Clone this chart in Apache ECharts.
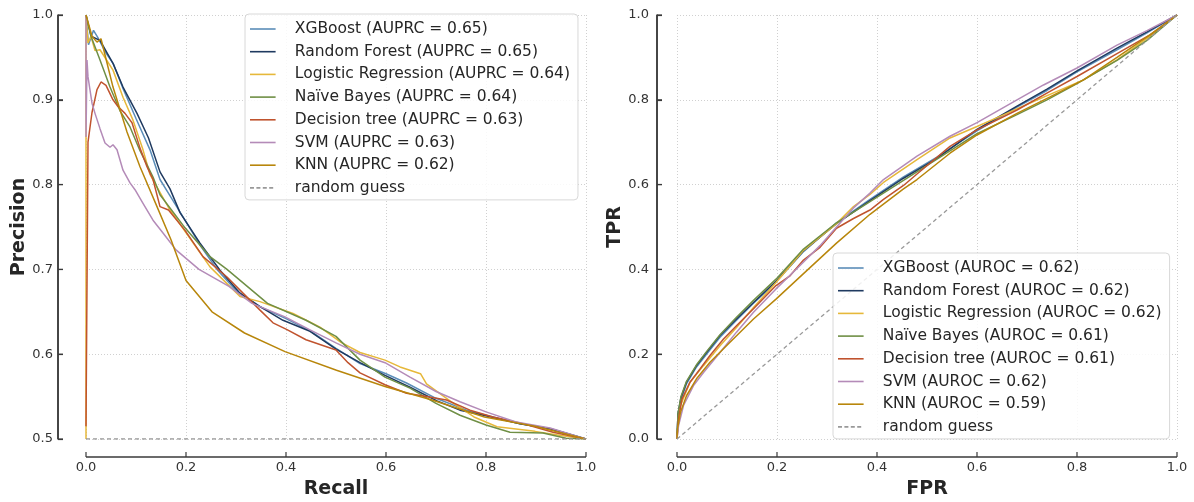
<!DOCTYPE html>
<html><head><meta charset="utf-8">
<script src="https://cdn.jsdelivr.net/npm/echarts@6/dist/echarts.min.js"></script>
<style>html,body{margin:0;padding:0;background:#fff}#c{width:1194px;height:502px}</style>
</head><body><div id="c"></div>
<script>
// ---------- Data ----------
const modelNames = ["XGBoost","Random Forest","Logistic Regression","Naïve Bayes","Decision tree","SVM","KNN"];
const auprc = ["0.65","0.65","0.64","0.64","0.63","0.63","0.62"];
const auroc = ["0.62","0.62","0.62","0.61","0.61","0.62","0.59"];
const colors = ["#5b8db8","#1f3a60","#e6b83a","#6f8f45","#c0532e","#b48bb8","#b8860b"];
const xTicks = [0,0.2,0.4,0.6,0.8,1.0];
const prYTicks = [0.5,0.6,0.7,0.8,0.9,1.0];
const rocYTicks = [0,0.2,0.4,0.6,0.8,1.0];

// Precision-Recall curves: [recall, precision]
const prXGBoost = [[0,1.0],[0.005,0.965],[0.015,0.982],[0.025,0.972],[0.04,0.955],[0.055,0.942],[0.075,0.912],[0.1,0.878],[0.128,0.841],[0.148,0.806],[0.17,0.785],[0.198,0.758],[0.23,0.727],[0.262,0.7],[0.3,0.675],[0.348,0.656],[0.4,0.642],[0.45,0.627],[0.5,0.607],[0.548,0.589],[0.6,0.577],[0.641,0.566],[0.7,0.548],[0.761,0.534],[0.8,0.528],[0.868,0.518],[0.93,0.512],[1,0.5]];
const prRandomForest = [[0,1.0],[0.01,0.975],[0.028,0.97],[0.054,0.943],[0.074,0.915],[0.102,0.884],[0.125,0.855],[0.148,0.815],[0.168,0.795],[0.188,0.767],[0.228,0.731],[0.268,0.699],[0.308,0.672],[0.348,0.656],[0.394,0.64],[0.448,0.627],[0.5,0.606],[0.548,0.59],[0.598,0.575],[0.648,0.561],[0.702,0.545],[0.748,0.534],[0.802,0.527],[0.868,0.518],[0.928,0.512],[1,0.5]];
const prLogistic = [[0,0.5],[0,1.0],[0.004,0.967],[0.01,0.975],[0.018,0.958],[0.028,0.959],[0.054,0.935],[0.074,0.903],[0.094,0.876],[0.114,0.841],[0.128,0.812],[0.142,0.797],[0.165,0.773],[0.198,0.745],[0.248,0.703],[0.308,0.668],[0.348,0.662],[0.414,0.648],[0.468,0.632],[0.51,0.614],[0.548,0.602],[0.598,0.593],[0.628,0.585],[0.669,0.577],[0.681,0.565],[0.73,0.544],[0.776,0.526],[0.822,0.5145],[0.898,0.509],[0.95,0.504],[1,0.5]];
const prNaiveBayes = [[0,1.0],[0.01,0.975],[0.028,0.947],[0.048,0.915],[0.068,0.887],[0.088,0.868],[0.108,0.84],[0.134,0.809],[0.148,0.788],[0.198,0.749],[0.248,0.715],[0.282,0.7],[0.363,0.66],[0.44,0.64],[0.5,0.621],[0.548,0.593],[0.598,0.573],[0.648,0.56],[0.7,0.542],[0.748,0.528],[0.8,0.5165],[0.848,0.508],[0.914,0.507],[0.96,0.501],[1,0.5]];
const prDecisionTree = [[0,0.515],[0.004,0.85],[0.012,0.885],[0.022,0.912],[0.03,0.921],[0.04,0.917],[0.054,0.9],[0.064,0.892],[0.078,0.884],[0.092,0.873],[0.108,0.843],[0.122,0.821],[0.134,0.806],[0.148,0.774],[0.165,0.77],[0.198,0.746],[0.234,0.715],[0.282,0.691],[0.314,0.672],[0.348,0.652],[0.374,0.637],[0.402,0.629],[0.44,0.617],[0.5,0.605],[0.524,0.59],[0.548,0.578],[0.598,0.564],[0.641,0.554],[0.681,0.55],[0.721,0.546],[0.768,0.534],[0.814,0.526],[0.868,0.519],[0.934,0.508],[1,0.5]];
const prSVM = [[0,1.0],[0,0.856],[0.002,0.947],[0.004,0.927],[0.012,0.896],[0.018,0.884],[0.028,0.866],[0.038,0.849],[0.048,0.844],[0.054,0.847],[0.062,0.841],[0.074,0.817],[0.088,0.802],[0.098,0.794],[0.114,0.778],[0.134,0.758],[0.154,0.743],[0.18,0.723],[0.226,0.7],[0.286,0.68],[0.332,0.66],[0.398,0.644],[0.447,0.629],[0.501,0.613],[0.548,0.6],[0.598,0.59],[0.648,0.573],[0.7,0.556],[0.748,0.544],[0.8,0.532],[0.86,0.52],[0.928,0.513],[1,0.5]];
const prKNN = [[0,1.0],[0.012,0.975],[0.022,0.968],[0.03,0.972],[0.054,0.915],[0.082,0.862],[0.108,0.821],[0.142,0.774],[0.17,0.735],[0.2,0.687],[0.252,0.65],[0.317,0.625],[0.398,0.603],[0.501,0.581],[0.598,0.562],[0.692,0.546],[0.797,0.526],[0.898,0.515],[1,0.5]];
const prRandom = [[0,0.5],[1,0.5]];

// ROC curves: [FPR, TPR]
const rocXGBoost = [[0,0],[0.002,0.055],[0.008,0.092],[0.019,0.13],[0.039,0.17],[0.059,0.2],[0.086,0.24],[0.119,0.28],[0.153,0.32],[0.198,0.37],[0.253,0.442],[0.319,0.51],[0.386,0.565],[0.453,0.618],[0.52,0.665],[0.6,0.727],[0.68,0.783],[0.74,0.822],[0.8,0.866],[0.88,0.918],[0.94,0.958],[1,1]];
const rocRandomForest = [[0,0],[0.002,0.06],[0.008,0.098],[0.019,0.134],[0.039,0.173],[0.059,0.204],[0.086,0.244],[0.119,0.283],[0.153,0.322],[0.198,0.372],[0.253,0.444],[0.319,0.508],[0.386,0.562],[0.453,0.615],[0.52,0.662],[0.6,0.73],[0.68,0.785],[0.74,0.825],[0.8,0.868],[0.88,0.922],[0.94,0.96],[1,1]];
const rocLogistic = [[0,0],[0.003,0.05],[0.007,0.079],[0.026,0.134],[0.053,0.173],[0.086,0.22],[0.119,0.263],[0.153,0.31],[0.198,0.369],[0.253,0.445],[0.319,0.508],[0.353,0.548],[0.386,0.577],[0.413,0.605],[0.48,0.659],[0.546,0.71],[0.6,0.737],[0.646,0.761],[0.713,0.796],[0.76,0.82],[0.813,0.847],[0.88,0.894],[0.94,0.945],[1,1]];
const rocNaiveBayes = [[0,0],[0.002,0.06],[0.008,0.1],[0.019,0.136],[0.039,0.175],[0.059,0.206],[0.086,0.246],[0.119,0.287],[0.153,0.327],[0.198,0.377],[0.253,0.448],[0.319,0.51],[0.386,0.56],[0.453,0.61],[0.52,0.66],[0.6,0.72],[0.68,0.765],[0.74,0.8],[0.8,0.838],[0.88,0.893],[0.94,0.94],[1,1]];
const rocDecisionTree = [[0,0],[0.003,0.047],[0.01,0.094],[0.026,0.134],[0.046,0.165],[0.066,0.197],[0.093,0.236],[0.119,0.267],[0.153,0.307],[0.198,0.362],[0.226,0.385],[0.253,0.422],[0.286,0.452],[0.319,0.497],[0.353,0.52],[0.386,0.54],[0.413,0.565],[0.453,0.598],[0.48,0.625],[0.546,0.69],[0.6,0.729],[0.68,0.776],[0.746,0.82],[0.8,0.855],[0.88,0.909],[0.946,0.953],[1,1]];
const rocSVM = [[0,0],[0.003,0.031],[0.013,0.079],[0.033,0.126],[0.053,0.157],[0.086,0.204],[0.119,0.252],[0.153,0.299],[0.198,0.354],[0.239,0.401],[0.286,0.456],[0.319,0.5],[0.353,0.545],[0.386,0.58],[0.413,0.612],[0.48,0.667],[0.546,0.714],[0.6,0.746],[0.68,0.8],[0.733,0.835],[0.8,0.875],[0.88,0.929],[0.94,0.963],[1,1]];
const rocKNN = [[0,0],[0.001,0.024],[0.007,0.063],[0.019,0.102],[0.039,0.142],[0.066,0.181],[0.106,0.228],[0.153,0.283],[0.198,0.33],[0.253,0.39],[0.319,0.462],[0.386,0.53],[0.453,0.59],[0.48,0.612],[0.546,0.674],[0.6,0.717],[0.68,0.768],[0.746,0.807],[0.813,0.847],[0.88,0.9],[0.946,0.953],[1,1]];
const rocRandom = [[0,0],[1,1]];

const prData = [prXGBoost,prRandomForest,prLogistic,prNaiveBayes,prDecisionTree,prSVM,prKNN];
const rocData = [rocXGBoost,rocRandomForest,rocLogistic,rocNaiveBayes,rocDecisionTree,rocSVM,rocKNN];

// ---------- Chart ----------
const FONT = "DejaVu Sans";
const chart = echarts.init(document.getElementById('c'), null, {renderer:'canvas'});
const SPINE = '#3a3a3a';
const SOLID_ICON = 'path://M0,0H32V2H0Z';
const DASH_ICON = 'path://M0,0H5V2H0Z M8,0H13V2H8Z M16,0H21V2H16Z M24,0H29V2H24Z M32,0H32.01V2H32Z';

function xAxisCfg(gi, name, offset){
  return {type:'value', gridIndex:gi, min:0, max:1, interval:0.2, offset:offset,
    name:name, nameLocation:'middle', nameGap:23,
    nameTextStyle:{fontFamily:FONT, fontSize:19, fontWeight:'bold', color:'#262626'},
    axisLine:{show:false}, axisTick:{show:false},
    axisLabel:{fontFamily:FONT, fontSize:13, color:'#333', margin:4, formatter:v=>v.toFixed(1)},
    splitLine:{show:true, lineStyle:{color:'#d0d0d0', type:[1,2], width:1}}};
}
function yAxisCfg(gi, name, min, interval, offset, gap, margin){
  return {type:'value', gridIndex:gi, min:min, max:1, interval:interval, offset:offset,
    name:name, nameLocation:'middle', nameGap:gap, nameRotate:90,
    nameTextStyle:{fontFamily:FONT, fontSize:19, fontWeight:'bold', color:'#262626'},
    axisLine:{show:true, onZero:false, lineStyle:{color:SPINE, width:1.5}},
    axisTick:{show:true, inside:true, length:5, lineStyle:{color:SPINE, width:1.2}},
    axisLabel:{fontFamily:FONT, fontSize:13, color:'#333', margin:margin, formatter:v=>v.toFixed(1)},
    splitLine:{show:true, lineStyle:{color:'#d0d0d0', type:[1,2], width:1}}};
}

const series = [];
const prLegend = [], rocLegend = [];
modelNames.forEach((m,i)=>{
  const pn = m + " (AUPRC = " + auprc[i] + ")";
  prLegend.push({name:pn, icon:SOLID_ICON});
  series.push({name:pn, type:'line', xAxisIndex:0, yAxisIndex:0, data:prData[i], symbol:'none',
    lineStyle:{color:colors[i], width:1.5}, itemStyle:{color:colors[i]}});
});
modelNames.forEach((m,i)=>{
  const rn = m + " (AUROC = " + auroc[i] + ")";
  rocLegend.push({name:rn, icon:SOLID_ICON});
  series.push({name:rn, type:'line', xAxisIndex:1, yAxisIndex:1, data:rocData[i], symbol:'none',
    lineStyle:{color:colors[i], width:1.5}, itemStyle:{color:colors[i]}});
});
series.push({name:'random guess', type:'line', xAxisIndex:0, yAxisIndex:0, data:prRandom, symbol:'none',
  lineStyle:{color:'#999', width:1.3, type:[4,3]}, itemStyle:{color:'#999'}});
series.push({name:'random guess ', type:'line', xAxisIndex:1, yAxisIndex:1, data:rocRandom, symbol:'none',
  lineStyle:{color:'#999', width:1.3, type:[4,3]}, itemStyle:{color:'#999'}});
prLegend.push({name:'random guess', icon:DASH_ICON});
rocLegend.push({name:'random guess ', icon:DASH_ICON});

// Offset spines (matplotlib-style) drawn by a custom series through the axes' scales
function spineSeries(ai, ymin, yTicks, xoff){
  return {type:'custom', name:'_spine'+ai, xAxisIndex:ai, yAxisIndex:ai, silent:true, clip:false, z:5,
    data:[[0, ymin]],
    renderItem:(params, api)=>{
      const a = api.coord([0, ymin]), b = api.coord([1, 1]);
      const sx = a[0] - xoff, sy = a[1] + 18, tl = 5;
      const ch = [];
      ch.push({type:'line', shape:{x1:sx, y1:a[1], x2:sx, y2:b[1]}, style:{stroke:SPINE, lineWidth:1.5}});
      ch.push({type:'line', shape:{x1:a[0], y1:sy, x2:b[0], y2:sy}, style:{stroke:SPINE, lineWidth:1.5}});
      xTicks.forEach(v=>{ const px = api.coord([v, ymin])[0];
        ch.push({type:'line', shape:{x1:px, y1:sy, x2:px, y2:sy-tl}, style:{stroke:SPINE, lineWidth:1.2}}); });
      yTicks.forEach(v=>{ const py = api.coord([0, v])[1];
        ch.push({type:'line', shape:{x1:sx, y1:py, x2:sx+tl, y2:py}, style:{stroke:SPINE, lineWidth:1.2}}); });
      return {type:'group', children:ch};
    }};
}
series.push(spineSeries(0, 0.5, prYTicks, 28));
series.push(spineSeries(1, 0, rocYTicks, 20));

function legendCfg(items, left, top){
  return {orient:'vertical', left:left, top:top, data:items,
    itemWidth:32, itemHeight:1.6, itemGap:6.7, padding:[7,8,4,5],
    backgroundColor:'rgba(255,255,255,0.85)', borderColor:'#d8d8d8', borderWidth:1, borderRadius:4,
    selectedMode:false,
    textStyle:{fontFamily:FONT, fontSize:15.5, color:'#262626', lineHeight:16, padding:[0,0,0,11]},
    formatter:n=>n.trim()};
}

chart.setOption({
  animation:false,
  backgroundColor:'#fff',
  grid:[{left:86, top:15, width:500, height:424, outerBoundsMode:'none', containLabel:false},
        {left:677, top:15, width:500, height:424, outerBoundsMode:'none', containLabel:false}],
  xAxis:[xAxisCfg(0,'Recall',18), xAxisCfg(1,'FPR',18)],
  yAxis:[yAxisCfg(0,'Precision',0.5,0.1,28,26.5,5), yAxisCfg(1,'TPR',0,0.2,20,16,8)],
  legend:[legendCfg(prLegend,245,14), legendCfg(rocLegend,833,253)],
  series:series
});

// Third route: vertical spines as line series, placed through the x scale (pixel offset converted to data units)
const extra = [];
[{gi:0, ymin:0.5, xoff:28}, {gi:1, ymin:0, xoff:20}].forEach(a=>{
  const p = chart.convertToPixel({gridIndex:a.gi},[0,a.ymin]);
  const xs = chart.convertFromPixel({gridIndex:a.gi},[p[0]-a.xoff, p[1]])[0];
  extra.push({type:'line', name:'_vspine'+a.gi, xAxisIndex:a.gi, yAxisIndex:a.gi, silent:true, clip:false,
    symbol:'none', z:6, data:[[xs, a.ymin],[xs, 1]], lineStyle:{color:SPINE, width:1.5}});
});
chart.setOption({series:series.concat(extra)});
</script></body></html>
